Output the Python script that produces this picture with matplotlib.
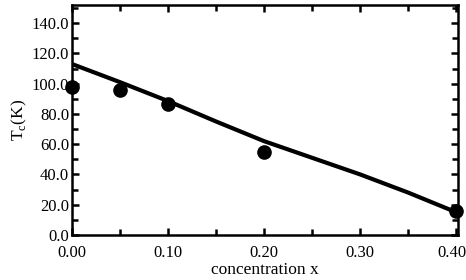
import matplotlib.pyplot as plt
import numpy as np
from matplotlib.ticker import MultipleLocator
from matplotlib.transforms import ScaledTranslation

plt.rcParams['font.family'] = 'Liberation Serif'

# measured points
x_pts = [0.0, 0.05, 0.10, 0.20, 0.40]
tc_pts = [98.0, 95.5, 86.5, 55.0, 16.0]

# fitted curve
x_fit = [0.0, 0.05, 0.10, 0.15, 0.20, 0.25, 0.30, 0.35, 0.40]
tc_fit = [113.0, 101.0, 88.5, 75.0, 62.0, 51.0, 40.0, 28.0, 15.0]

fig = plt.figure(figsize=(4.66, 2.8), dpi=100)
ax = fig.add_axes([0.1545, 0.161, 0.8285, 0.821])

ax.plot(x_fit, tc_fit, color='black', lw=3.0, solid_capstyle='round')
ax.plot(x_pts, tc_pts, 'o', color='black', ms=9.5, clip_on=False)

ax.set_xlim(0, 0.402)
ax.set_ylim(0, 152)
ax.set_xticks([0, 0.1, 0.2, 0.3, 0.4])
ax.set_xticklabels(['0.00', '0.10', '0.20', '0.30', '0.40'])
ax.set_yticks(np.arange(0, 141, 20))
ax.set_yticklabels(['%.1f' % v for v in np.arange(0, 141, 20)])
ax.xaxis.set_minor_locator(MultipleLocator(0.05))
ax.yaxis.set_minor_locator(MultipleLocator(10))
ax.tick_params(which='both', direction='in', top=True, right=True,
               width=1.8, labelsize=12)
ax.tick_params(which='major', length=5)
ax.tick_params(which='minor', length=4)
ax.tick_params(axis='x', pad=7)
ax.tick_params(axis='y', pad=2)
for s in ax.spines.values():
    s.set_linewidth(1.8)

# last label sits right at the figure edge, nudge it in a bit
lbl = ax.get_xticklabels()[-1]
lbl.set_transform(lbl.get_transform() + ScaledTranslation(-4 / 100, 0, fig.dpi_scale_trans))

ax.set_xlabel('concentration x', fontsize=12.5, labelpad=1)
ax.set_ylabel('T$_\\mathregular{c}$(K)', fontsize=12.5, labelpad=2)

plt.savefig('out.png', dpi=100)
